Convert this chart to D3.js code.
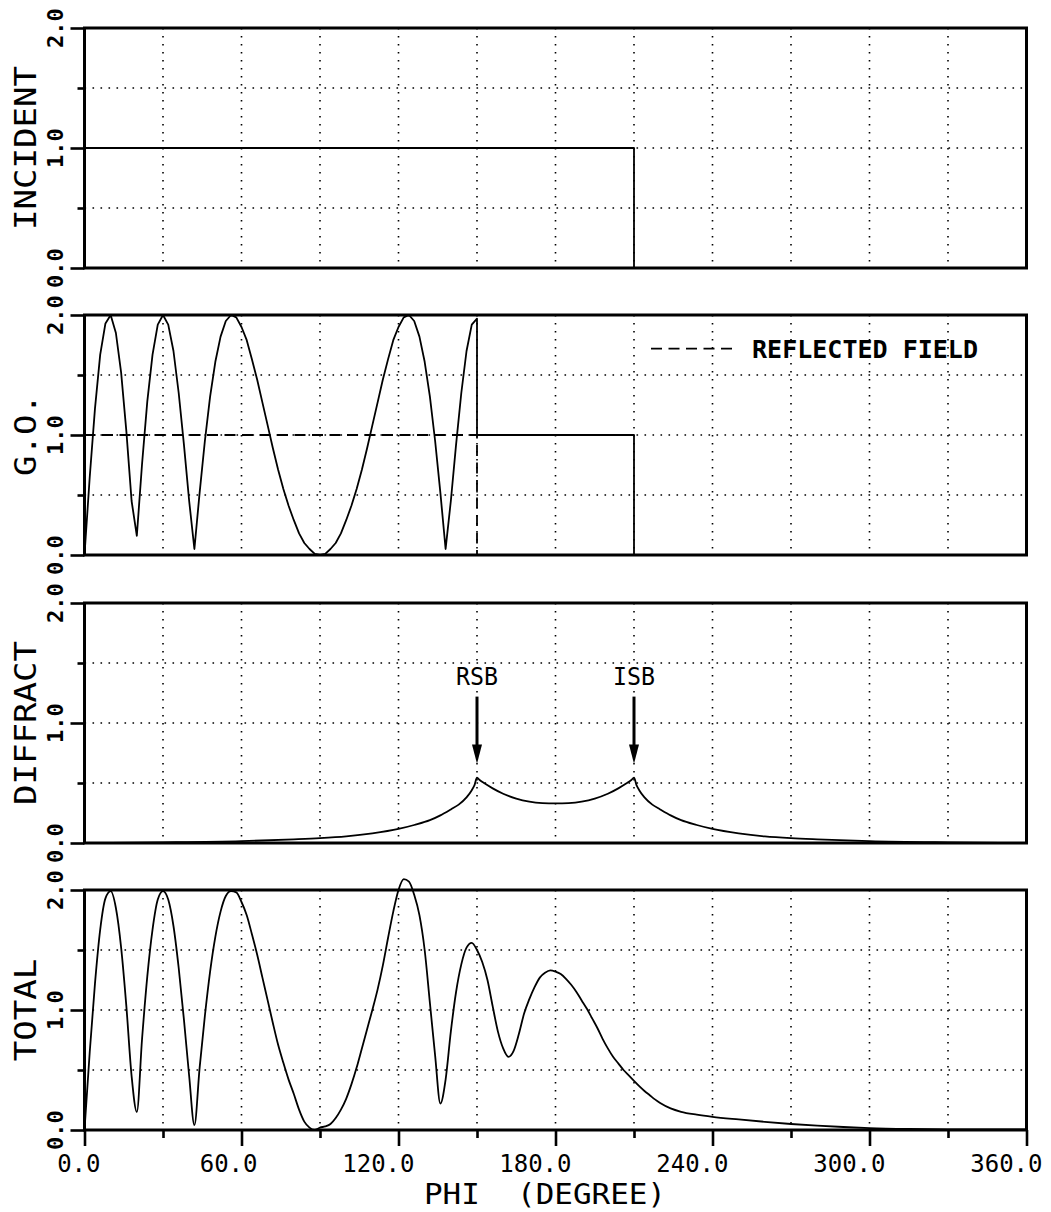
<!DOCTYPE html>
<html>
<head>
<meta charset="utf-8">
<script src="https://cdn.jsdelivr.net/npm/d3@7"></script>
<style>
  html, body { margin: 0; padding: 0; background: #fff; }
  svg { display: block; }
</style>
</head>
<body>
<svg id="chart" width="1051" height="1212"></svg>
<script>
// ---- data -------------------------------------------------------------
const phiTicks = [0, 60, 120, 180, 240, 300, 360];
const phiTickLabels = ["0.0", "60.0", "120.0", "180.0", "240.0", "300.0", "360.0"];
const phiMinorTicks = [30, 90, 150, 210, 270, 330];
const phiGrid = [30, 60, 90, 120, 150, 180, 210, 240, 270, 300, 330];
const valueTicks = [0, 1, 2];
const valueTickLabels = ["0.0", "1.0", "2.0"];
const valueMinorTicks = [0.5, 1.5];
const valueGrid = [0.5, 1.0, 1.5];
const panelTitles = ["INCIDENT", "G.O.", "DIFFRACT", "TOTAL"];
const xTitle = "PHI  (DEGREE)";
const legendLabel = "REFLECTED FIELD";
const boundaryLabels = ["RSB", "ISB"];
const boundaryPhi = [150, 210];

// incident field
const incidentPhi = [0, 210, 210, 360];
const incidentVal = [1, 1, 0, 0];

// geometrical optics field (incident + reflected)
const goPhi = [0, 2, 4, 6, 8, 10, 12, 14, 16, 18, 20, 22, 24, 26, 28, 30, 32, 34, 36, 38,
  40, 42, 44, 46, 48, 50, 52, 54, 56, 58, 60, 62, 64, 66, 68, 70, 72, 74, 76, 78,
  80, 82, 84, 86, 88, 90, 92, 94, 96, 98, 100, 102, 104, 106, 108, 110, 112, 114, 116, 118,
  120, 122, 124, 126, 128, 130, 132, 134, 136, 138, 140, 142, 144, 146, 148, 150,
  150, 210, 210, 360];
const goVal = [0.00, 0.65, 1.22, 1.67, 1.93, 2.00, 1.85, 1.52, 1.03, 0.45, 0.16, 0.76, 1.28, 1.67, 1.92, 2.00, 1.92, 1.70, 1.35, 0.92,
  0.45, 0.05, 0.52, 0.95, 1.32, 1.61, 1.82, 1.95, 2.00, 1.98, 1.90, 1.79, 1.63, 1.46, 1.27, 1.08, 0.89, 0.71, 0.55, 0.41,
  0.29, 0.18, 0.10, 0.05, 0.01, 0.00, 0.01, 0.05, 0.10, 0.18, 0.29, 0.41, 0.55, 0.71, 0.89, 1.08, 1.27, 1.46, 1.63, 1.79,
  1.90, 1.98, 2.00, 1.95, 1.82, 1.61, 1.32, 0.95, 0.52, 0.05, 0.45, 0.92, 1.35, 1.70, 1.92, 1.97,
  1.00, 1.00, 0.00, 0.00];

// reflected field alone (dashed)
const reflectedPhi = [0, 150, 150];
const reflectedVal = [1, 1, 0];

// diffracted field
const diffractPhi = [0, 30, 60, 80, 90, 100, 110, 120, 126, 132, 136, 140, 143, 146, 148, 149, 150,
  151, 153, 156, 160, 165, 170, 175, 180, 185, 190, 195, 200, 204, 207, 209, 210,
  211, 212, 214, 217, 220, 224, 228, 234, 240, 250, 260, 270, 280, 300, 330, 360];
const diffractVal = [0.000, 0.005, 0.015, 0.030, 0.040, 0.055, 0.080, 0.117, 0.150, 0.190, 0.230, 0.280, 0.320, 0.380, 0.440, 0.480, 0.544,
  0.525, 0.495, 0.455, 0.410, 0.370, 0.345, 0.333, 0.330, 0.333, 0.345, 0.370, 0.410, 0.455, 0.495, 0.525, 0.544,
  0.480, 0.440, 0.380, 0.320, 0.280, 0.230, 0.190, 0.150, 0.117, 0.080, 0.055, 0.040, 0.030, 0.015, 0.005, 0.000];

// total field
const totalPhi = [0, 2, 4, 6, 8, 10, 12, 14, 16, 18, 20, 22, 24, 26, 28, 30, 32, 34, 36, 38,
  40, 42, 44, 46, 48, 50, 52, 54, 56, 58, 60, 62, 64, 66, 68, 70, 72, 74, 76, 78,
  80, 82, 84, 86, 88, 90, 92, 94, 96, 98, 100, 102, 104, 106, 108, 110, 112, 114, 116, 118,
  120, 122, 124, 126, 128, 130, 132, 134, 136, 138, 140, 142, 144, 146, 148, 150, 152, 154, 156, 158,
  160, 162, 164, 166, 168, 170, 172, 174, 176, 178, 180, 182, 184, 186, 188, 190, 192, 194, 196, 198,
  200, 202, 204, 206, 208, 210, 212, 214, 216, 218, 220, 224, 228, 234, 240, 250, 260, 270, 280, 290,
  300, 315, 330, 345, 360];
const totalVal = [0.00, 0.65, 1.22, 1.67, 1.93, 1.99, 1.85, 1.52, 1.03, 0.45, 0.15, 0.76, 1.28, 1.67, 1.92, 1.99, 1.92, 1.70, 1.35, 0.92,
  0.45, 0.04, 0.52, 0.95, 1.32, 1.61, 1.82, 1.95, 1.99, 1.98, 1.90, 1.79, 1.63, 1.46, 1.27, 1.08, 0.89, 0.71, 0.56, 0.42,
  0.30, 0.17, 0.07, 0.02, 0.00, 0.02, 0.03, 0.05, 0.10, 0.17, 0.26, 0.38, 0.52, 0.68, 0.84, 1.00, 1.17, 1.37, 1.60, 1.82,
  2.00, 2.09, 2.07, 1.96, 1.79, 1.50, 1.06, 0.62, 0.22, 0.42, 0.82, 1.15, 1.38, 1.52, 1.56, 1.50, 1.40, 1.25, 1.03, 0.82,
  0.68, 0.61, 0.66, 0.80, 0.97, 1.09, 1.19, 1.27, 1.31, 1.33, 1.32, 1.30, 1.26, 1.21, 1.15, 1.08, 1.01, 0.93, 0.85, 0.76,
  0.68, 0.61, 0.555, 0.50, 0.455, 0.41, 0.365, 0.325, 0.29, 0.255, 0.225, 0.18, 0.152, 0.128, 0.11, 0.088, 0.068, 0.05, 0.036, 0.025,
  0.016, 0.009, 0.006, 0.005, 0.004];

// ---- layout -----------------------------------------------------------
const svg = d3.select("#chart");
const plotLeft = 84.5, plotRight = 1026.5;
const panelTops = [28, 315, 603, 890];
const panelH = 240;
const FONT = "'DejaVu Sans Mono', 'Liberation Mono', monospace";

svg.append("rect").attr("width", 1051).attr("height", 1212).attr("fill", "#fff");

const x = d3.scaleLinear().domain([0, 360]).range([plotLeft, plotRight]);
const zip = (a, b) => a.map((v, i) => [v, b[i]]);

const panels = [
  { series: [{ phi: incidentPhi, val: incidentVal, curve: d3.curveLinear }] },
  { series: [
      { phi: goPhi, val: goVal, curve: d3.curveLinear },
      { phi: reflectedPhi, val: reflectedVal, curve: d3.curveLinear, dash: "11,6.5" }
    ] },
  { series: [{ phi: diffractPhi, val: diffractVal, curve: d3.curveMonotoneX }] },
  { series: [{ phi: totalPhi, val: totalVal, curve: d3.curveMonotoneX }] }
];

panels.forEach((p, i) => {
  const top = panelTops[i];
  const y = d3.scaleLinear().domain([0, 2]).range([top + panelH, top]);
  p.y = y;
  const g = svg.append("g");

  // dotted grid
  g.selectAll(".vgrid").data(phiGrid).join("line")
    .attr("x1", d => x(d)).attr("x2", d => x(d))
    .attr("y1", y(2)).attr("y2", y(0))
    .attr("stroke", "#000").attr("stroke-width", 1.6)
    .attr("stroke-dasharray", "1.6,6.4");
  g.selectAll(".hgrid").data(valueGrid).join("line")
    .attr("x1", x(0)).attr("x2", x(360))
    .attr("y1", d => y(d)).attr("y2", d => y(d))
    .attr("stroke", "#000").attr("stroke-width", 1.6)
    .attr("stroke-dasharray", "1.6,6.4");

  // curves
  p.series.forEach(s => {
    const line = d3.line().x(d => x(d[0])).y(d => y(d[1])).curve(s.curve);
    g.append("path")
      .attr("d", line(zip(s.phi, s.val)))
      .attr("fill", "none").attr("stroke", "#000")
      .attr("stroke-width", 1.8)
      .attr("stroke-linejoin", "round")
      .attr("stroke-dasharray", s.dash || null);
  });

  // frame
  g.append("rect")
    .attr("x", x(0)).attr("y", y(2))
    .attr("width", x(360) - x(0)).attr("height", y(0) - y(2))
    .attr("fill", "none").attr("stroke", "#000").attr("stroke-width", 3);

  // left ticks
  const major = d3.axisLeft(y).tickValues(valueTicks).tickSize(14).tickFormat("");
  const minor = d3.axisLeft(y).tickValues(valueMinorTicks).tickSize(7).tickFormat("");
  [major, minor].forEach(ax => {
    const a = g.append("g").attr("transform", `translate(${x(0)},0)`).call(ax);
    a.select(".domain").remove();
    a.selectAll("line").attr("stroke", "#000").attr("stroke-width", 2.6);
  });

  // rotated value labels
  g.selectAll(".vlabel").data(valueTicks).join("text")
    .attr("transform", d => `translate(63,${y(d)}) rotate(-90)`)
    .attr("text-anchor", "middle")
    .attr("font-family", FONT).attr("font-weight", "bold").attr("font-size", 22)
    .text((d, k) => valueTickLabels[k]);

  // panel title
  const title = panelTitles[i];
  g.append("text")
    .attr("transform", `translate(36,${top + panelH / 2}) rotate(-90)`)
    .attr("text-anchor", "middle")
    .attr("font-family", FONT).attr("font-size", 31)
    .attr("textLength", title.length * 20.5).attr("lengthAdjust", "spacingAndGlyphs")
    .text(title);
});

// bottom x axis on last panel
const yLast = panels[3].y;
[[phiTicks, 16], [phiMinorTicks, 8]].forEach(([vals, size]) => {
  const a = svg.append("g").attr("transform", `translate(0,${yLast(0)})`)
    .call(d3.axisBottom(x).tickValues(vals).tickSize(size).tickFormat(""));
  a.select(".domain").remove();
  a.selectAll("line").attr("stroke", "#000").attr("stroke-width", 2.6);
});
svg.selectAll(".xlabel").data(phiTicks).join("text")
  .attr("x", d => x(d) + 16).attr("y", 1172)
  .attr("text-anchor", "end")
  .attr("font-family", FONT).attr("font-size", 24)
  .text((d, k) => phiTickLabels[k]);

svg.append("text")
  .attr("x", 424).attr("y", 1204)
  .attr("font-family", FONT).attr("font-size", 29)
  .attr("textLength", 242).attr("lengthAdjust", "spacingAndGlyphs")
  .attr("xml:space", "preserve")
  .style("white-space", "pre")
  .text(xTitle);

// legend in the G.O. panel
const yGo = panels[1].y;
const legY = yGo(1.72);
svg.append("line")
  .attr("x1", 651).attr("x2", 737).attr("y1", legY).attr("y2", legY)
  .attr("stroke", "#000").attr("stroke-width", 1.8).attr("stroke-dasharray", "11,6.5");
svg.append("text")
  .attr("x", 752).attr("y", legY + 9)
  .attr("font-family", FONT).attr("font-size", 25).attr("font-weight", "bold")
  .attr("textLength", 226).attr("lengthAdjust", "spacingAndGlyphs")
  .text(legendLabel);

// shadow boundary markers in the diffraction panel
const yD = panels[2].y;
boundaryPhi.forEach((phi, k) => {
  const cx = x(phi);
  svg.append("text")
    .attr("x", cx).attr("y", yD(1.32))
    .attr("text-anchor", "middle")
    .attr("font-family", FONT).attr("font-size", 25)
    .attr("textLength", 42).attr("lengthAdjust", "spacingAndGlyphs")
    .text(boundaryLabels[k]);
  svg.append("line")
    .attr("x1", cx).attr("x2", cx).attr("y1", yD(1.22)).attr("y2", yD(0.78))
    .attr("stroke", "#000").attr("stroke-width", 3);
  const tip = yD(0.66), base = yD(0.82);
  svg.append("path")
    .attr("d", `M${cx - 5},${base} L${cx + 5},${base} L${cx},${tip} Z`)
    .attr("fill", "#000");
});
</script>
</body>
</html>
